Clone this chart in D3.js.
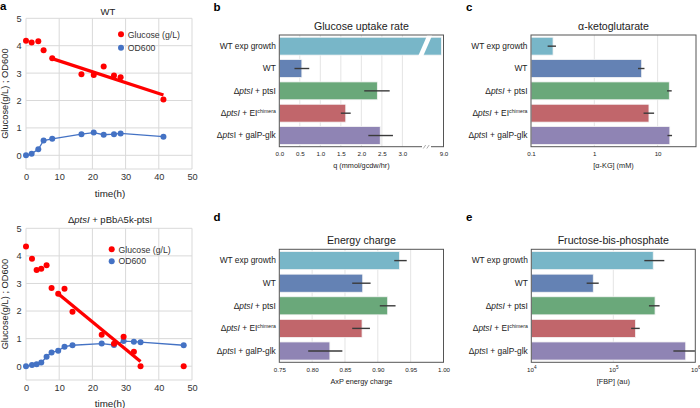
<!DOCTYPE html>
<html><head><meta charset="utf-8">
<script src="https://cdn.jsdelivr.net/npm/d3@7"></script>
<style>body{margin:0;background:#fff} svg{display:block;font-family:"Liberation Sans",Arial,sans-serif}</style>
</head><body><svg id="c" width="700" height="408"></svg>
<script>
// ---------- data ----------
const timeTicks = [0,10,20,30,40,50];
const concTicks = [0,1,2,3,4,5];
const wtTime    = [0,1.7,3.7,5.3,7.9,16.7,20.4,23.4,26.5,28.5,41.4];
const wtGlucose = [4.18,4.12,4.16,3.83,3.54,2.96,2.93,3.24,2.91,2.85,2.04];
const wtOD      = [0,0.06,0.22,0.54,0.60,0.77,0.83,0.75,0.77,0.80,0.68];
const wtFitTime = [7.9,41.4];
const wtFitGlucose = [3.53,2.20];
const mutTime    = [0,1.8,3.2,4.6,6.2,7.7,9.7,11.6,14.0,22.8,26.5,29.4,32.5,34.5,47.5];
const mutGlucose = [4.34,3.90,3.49,3.53,3.66,2.84,2.63,2.81,1.97,1.14,0.81,1.07,0.52,0.0,0.0];
const mutOD      = [0,0.04,0.07,0.13,0.34,0.50,0.56,0.71,0.76,0.82,0.77,0.91,0.89,0.87,0.76];
const mutFitTime = [9.7,34.5];
const mutFitGlucose = [2.63,0.17];

// markup: *italic*, ^superscript
const categories = ["WT exp growth","WT","Δ*ptsI* + ptsI","Δ*ptsI* + EI^chimera","Δ*pts*I + galP-glk"];
const uptake   = [8.95,0.55,2.39,1.62,2.46];
const uptakeLo = [null,0.37,2.07,1.50,2.17];
const uptakeHi = [null,0.73,2.69,1.74,2.77];
const uptakeTicks = [0,0.5,1.0,1.5,2.0,2.5,3.0,9.0];
const akg   = [0.223,5.6,15.3,7.3,15.6];
const akgLo = [0.183,4.9,14.1,6.0,14.3];
const akgHi = [0.248,6.2,16.7,8.8,16.9];
const akgTicks = [0.1,1,10];
const energy   = [0.933,0.877,0.915,0.876,0.827];
const energyLo = [0.925,0.861,0.903,0.861,0.794];
const energyHi = [0.944,0.889,0.927,0.888,0.846];
const energyTicks = [0.75,0.80,0.85,0.90,0.95,1.00];
const fbp   = [3.07e5,5.7e4,3.23e5,1.87e5,7.64e5];
const fbpLo = [2.39e5,4.73e4,2.72e5,1.65e5,5.4e5];
const fbpHi = [4.19e5,6.64e4,3.67e5,2.10e5,9.9e5];
const fbpTicks = [1e4,1e5,1e6];
const barColors = ["#78b6c8","#6482b4","#6aa87a","#c1666b","#8f84b4"];

const svg = d3.select("#c");

function rich(textSel, s){
  textSel.text(null);
  const re = /(\*[^*]+\*)|(\^\S+)|([^*^]+)/g; let m;
  while((m = re.exec(s))){
    if(m[1]) textSel.append("tspan").attr("font-style","italic").text(m[1].slice(1,-1));
    else if(m[2]) textSel.append("tspan").attr("font-size","0.62em").attr("dy","-0.55em").text(m[2].slice(1));
    else textSel.append("tspan").text(m[3]);
  }
}

// ---------- panel a ----------
function timeCourse(o){
  const g = svg.append("g");
  const x = d3.scaleLinear().domain([0,50]).range([26,192]);
  const y = d3.scaleLinear().domain([-0.5,5]).range(o.yr);
  const grid = "#d9d9d9";
  g.selectAll(".gx").data(timeTicks).join("line").attr("x1",d=>x(d)).attr("x2",d=>x(d))
    .attr("y1",y(-0.5)).attr("y2",y(5)).attr("stroke",grid);
  g.selectAll(".gy").data(concTicks).join("line").attr("y1",d=>y(d)).attr("y2",d=>y(d))
    .attr("x1",x(0)).attr("x2",x(50)).attr("stroke",grid);
  g.append("line").attr("x1",x(0)).attr("x2",x(50)).attr("y1",y(-0.5)).attr("y2",y(-0.5)).attr("stroke",grid);
  const ax = g.append("g").attr("transform",`translate(0,${y(-0.5)})`)
    .call(d3.axisBottom(x).tickValues(timeTicks).tickFormat(d3.format("d")).tickSize(0).tickPadding(4.8));
  ax.select(".domain").remove();
  ax.attr("font-family",null).attr("font-size",9.2).attr("color","#333");
  const ay = g.append("g").attr("transform",`translate(${x(0)},0)`)
    .call(d3.axisLeft(y).tickValues(concTicks).tickFormat(d3.format("d")).tickSize(0).tickPadding(4.5));
  ay.select(".domain").remove();
  ay.attr("font-family",null).attr("font-size",9.2).attr("color","#333");
  // OD line + points
  const odPts = o.t.map((t,i)=>[t,o.od[i]]);
  g.append("path").datum(odPts).attr("d",d3.line().x(d=>x(d[0])).y(d=>y(d[1])))
    .attr("fill","none").attr("stroke","#4472c4").attr("stroke-width",1.3);
  g.selectAll(".od").data(odPts).join("circle").attr("cx",d=>x(d[0])).attr("cy",d=>y(d[1])).attr("r",3).attr("fill","#4472c4");
  const glPts = o.t.map((t,i)=>[t,o.gl[i]]);
  g.selectAll(".gl").data(glPts).join("circle").attr("cx",d=>x(d[0])).attr("cy",d=>y(d[1])).attr("r",3).attr("fill","#ff0000");
  const fit = o.ft.map((t,i)=>[t,o.fg[i]]);
  g.append("path").datum(fit).attr("d",d3.line().x(d=>x(d[0])).y(d=>y(d[1])))
    .attr("stroke","#ff0000").attr("stroke-width",3.3).attr("fill","none");
  // legend
  const lg = g.append("g");
  [["Glucose (g/L)","#ff0000"],["OD600","#4472c4"]].forEach((d,i)=>{
    lg.append("circle").attr("cx",o.lx).attr("cy",o.ly+i*o.ls).attr("r",3).attr("fill",d[1]);
    lg.append("text").attr("x",o.lx+6.8).attr("y",o.ly+i*o.ls+3.2).attr("font-size",8.7).attr("fill","#333").text(d[0]);
  });
  const tt = g.append("text").attr("x",o.tx).attr("y",o.ty).attr("text-anchor","middle").attr("font-size",9.5).attr("fill","#222");
  rich(tt,o.title);
  g.append("text").attr("transform",`translate(8,${(y(-0.5)+y(5))/2}) rotate(-90)`).attr("text-anchor","middle")
    .attr("font-size",9.3).attr("fill","#222").text("Glucose(g/L) ; OD600");
  g.append("text").attr("x",110).attr("y",o.xly).attr("text-anchor","middle").attr("font-size",9.8).attr("fill","#222").text("time(h)");
}
timeCourse({yr:[169,18.3],t:wtTime,gl:wtGlucose,od:wtOD,ft:wtFitTime,fg:wtFitGlucose,
  lx:121,ly:34.3,ls:13.4,title:"WT",tx:108,ty:14.5,xly:196.5});
timeCourse({yr:[380,228.3],t:mutTime,gl:mutGlucose,od:mutOD,ft:mutFitTime,fg:mutFitGlucose,
  lx:111.7,ly:249.3,ls:11.9,title:"Δ*ptsI* + pBbA5k-ptsI",tx:110,ty:222.5,xly:407});

// ---------- bar panels ----------
function barPanel(o){
  const g = svg.append("g");
  const x = o.x;
  const [x0,x1] = [o.left,o.right];
  const y = d3.scaleBand().domain(categories).range([o.top,o.bottom]).paddingInner(0.2).paddingOuter(0.1);
  g.selectAll(".grid").data(o.grid).join("line").attr("x1",d=>x(d)).attr("x2",d=>x(d))
    .attr("y1",o.top).attr("y2",o.bottom).attr("stroke","#e4e4e4").attr("stroke-width",1);
  g.selectAll(".bar").data(categories).join("rect")
    .attr("x",x0).attr("y",d=>y(d)).attr("width",(d,i)=>x(o.v[i])-x0).attr("height",y.bandwidth())
    .attr("fill",(d,i)=>barColors[i]).attr("stroke","#f4f4f4").attr("stroke-width",0.8);
  g.selectAll(".err").data(categories.map((c,i)=>[c,o.lo[i],o.hi[i]]).filter(d=>d[1]!=null)).join("line")
    .attr("x1",d=>x(d[1])).attr("x2",d=>x(d[2])).attr("y1",d=>y(d[0])+y.bandwidth()/2).attr("y2",d=>y(d[0])+y.bandwidth()/2)
    .attr("stroke","#3a3a3a").attr("stroke-width",1.4);
  g.append("rect").attr("x",x0).attr("y",o.top).attr("width",x1-x0).attr("height",o.bottom-o.top)
    .attr("fill","none").attr("stroke","#555").attr("stroke-width",1);
  if(o.extra) o.extra(g,x,y);
  const ax = g.append("g").attr("transform",`translate(0,${o.bottom})`)
    .call(d3.axisBottom(x).tickValues(o.ticks).tickFormat(o.fmt).tickSize(0).tickPadding(5));
  ax.select(".domain").remove();
  ax.attr("font-family",null).attr("font-size",6.2).attr("color","#222");
  if(o.sup) ax.selectAll("text").each(function(d){
    const t = d3.select(this); t.text(null);
    t.append("tspan").text("10");
    t.append("tspan").attr("font-size","0.75em").attr("dy","-0.5em").text(Math.round(Math.log10(d)));
  });
  const ay = g.append("g").attr("transform",`translate(${x0},0)`)
    .call(d3.axisLeft(y).tickSize(0).tickPadding(3.5));
  ay.select(".domain").remove();
  ay.attr("font-family",null).attr("font-size",8.4).attr("color","#222");
  ay.selectAll("text").each(function(d){ rich(d3.select(this),d); });
  g.append("text").attr("x",(x0+x1)/2).attr("y",o.top-5.5).attr("text-anchor","middle").attr("font-size",10.6).attr("fill","#222").text(o.title);
  g.append("text").attr("x",(x0+x1)/2).attr("y",o.bottom+21.5).attr("text-anchor","middle").attr("font-size",7.3).attr("fill","#222").text(o.xlabel);
}

const f1 = d3.format(".1f"), f2 = d3.format(".2f");
barPanel({left:279.3,right:443.5,top:35,bottom:146.7,
  x:d3.scaleLinear().domain([0,3.6,8.6,9.0]).range([279.3,427,427,443.5]),
  v:uptake,lo:uptakeLo,hi:uptakeHi,grid:[0.5,1,1.5,2,2.5,3],ticks:uptakeTicks,fmt:f1,
  title:"Glucose uptake rate",xlabel:"q (mmol/gcdw/hr)",
  extra:(g,x,y)=>{
    const xb = x(3.6), yt = y(categories[0]), yb = yt + y.bandwidth();
    g.append("polygon").attr("points",[[xb-9,yb+1.5],[xb-4,yb+1.5],[xb+5,yt-1.5],[xb,yt-1.5]].join(" ")).attr("fill","#fff");
    g.append("rect").attr("x",xb-5).attr("y",146.7-1.5).attr("width",9).attr("height",3).attr("fill","#fff");
    [-2.5,1].forEach(dx=>g.append("line").attr("x1",xb+dx-1.2).attr("x2",xb+dx+1.2).attr("y1",148.5).attr("y2",145)
      .attr("stroke","#888").attr("stroke-width",0.7));
  }});
barPanel({left:531,right:696,top:35,bottom:146.7,
  x:d3.scaleLog().domain([0.1,40.4]).range([531,696]),
  v:akg,lo:akgLo,hi:akgHi,grid:[1,10],ticks:akgTicks,fmt:d=>String(d),
  title:"α-ketoglutarate",xlabel:"[α-KG] (mM)"});
barPanel({left:279.3,right:443.5,top:249.3,bottom:362.3,
  x:d3.scaleLinear().domain([0.75,1.0]).range([279.3,443.5]),
  v:energy,lo:energyLo,hi:energyHi,grid:[0.8,0.85,0.9,0.95],ticks:energyTicks,fmt:f2,
  title:"Energy charge",xlabel:"AxP energy charge"});
barPanel({left:531.3,right:695.3,top:249.3,bottom:362.3,
  x:d3.scaleLog().domain([1e4,1e6]).range([531.3,695.3]),
  v:fbp,lo:fbpLo,hi:fbpHi,grid:[1e5],ticks:fbpTicks,fmt:d=>String(d),sup:true,
  title:"Fructose-bis-phosphate",xlabel:"[FBP] (au)"});

// panel letters
[["a",0,9.8],["b",213.5,10.7],["c",466,10.7],["d",213.5,220.7],["e",466,220.7]].forEach(d=>
  svg.append("text").attr("x",d[1]).attr("y",d[2]).attr("font-size",11.5).attr("font-weight","bold").attr("fill","#000").text(d[0]));
</script></body></html>
